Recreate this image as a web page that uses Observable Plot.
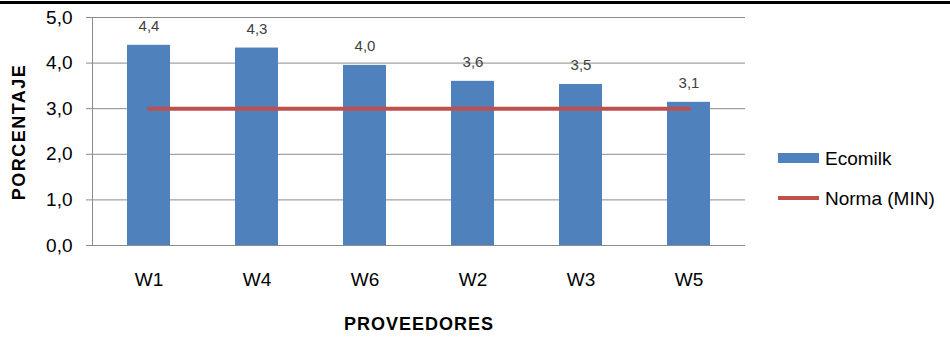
<!DOCTYPE html>
<html>
<head>
<meta charset="utf-8">
<script src="https://cdn.jsdelivr.net/npm/d3@7"></script>
<script src="https://cdn.jsdelivr.net/npm/@observablehq/plot@0.6"></script>
<style>
  html, body { margin: 0; padding: 0; background: #fff; }
  #chart svg { display: block; }
</style>
</head>
<body>
<div id="chart"></div>
<script>
const proveedores = ["W1", "W4", "W6", "W2", "W3", "W5"];
const ecomilk = [4.39, 4.33, 3.95, 3.60, 3.53, 3.14];
const norma = [3.0, 3.0, 3.0, 3.0, 3.0, 3.0];
const yTicks = [0, 1, 2, 3, 4, 5];
const seriesNames = ["Ecomilk", "Norma (MIN)"];
const xTitle = "PROVEEDORES";
const yTitle = "PORCENTAJE";

const barData = proveedores.map((p, i) => ({ p, v: ecomilk[i] }));
const lineData = proveedores.map((p, i) => ({ p, v: norma[i] }));
const fmt = d => d.toFixed(1).replace(".", ",");
const FONT = "'Liberation Sans', Arial, sans-serif";

const chart = Plot.plot({
  width: 950,
  height: 338,
  marginLeft: 92,
  marginRight: 205,
  marginTop: 17,
  marginBottom: 93,
  style: { fontFamily: FONT, background: "#fff" },
  x: { domain: proveedores, paddingInner: 0.6, paddingOuter: 0.3, label: null },
  y: { domain: [0, 5], label: null },
  marks: [
    Plot.gridY(yTicks, { stroke: "#8c8c8c", strokeOpacity: 1 }),
    Plot.barY(barData, { x: "p", y: "v", fill: "#4F81BD" }),
    Plot.lineY(lineData, { x: "p", y: "v", stroke: "#C0504D", strokeWidth: 4 }),
    Plot.text(barData, { x: "p", y: "v", text: d => fmt(d.v), dy: -19, fill: "#404040", fontSize: 15 }),
    Plot.ruleY([0], { stroke: "#8c8c8c" }),
    Plot.frame({ anchor: "left", stroke: "#8c8c8c" }),
    Plot.axisY(yTicks, { tickFormat: fmt, tickSize: 6, tickPadding: 14, fontSize: 19, stroke: "#8c8c8c", color: "#000", label: null }),
    Plot.axisX({ tickSize: 0, tickPadding: 27, fontSize: 19, label: null, color: "#000" })
  ]
});

document.getElementById("chart").appendChild(chart);

const svg = d3.select(chart);
// top border
svg.append("rect").attr("x", 0).attr("y", 1).attr("width", 950).attr("height", 3).attr("fill", "#000");
// axis titles
svg.append("text").attr("x", 419).attr("y", 324).attr("text-anchor", "middle").attr("dominant-baseline", "central")
  .attr("font-family", FONT).attr("font-size", 18).attr("font-weight", "bold").attr("letter-spacing", 1).attr("fill", "#000").text(xTitle);
svg.append("text").attr("transform", "translate(19,132) rotate(-90)").attr("text-anchor", "middle").attr("dominant-baseline", "central")
  .attr("font-family", FONT).attr("font-size", 18).attr("font-weight", "bold").attr("letter-spacing", 1.5).attr("fill", "#000").text(yTitle);
// legend
const lg = svg.append("g").attr("text-anchor", "start");
lg.append("rect").attr("x", 778).attr("y", 153).attr("width", 41).attr("height", 10).attr("fill", "#4F81BD");
lg.append("text").attr("x", 825).attr("y", 158).attr("text-anchor", "start").attr("dominant-baseline", "central")
  .attr("font-family", FONT).attr("font-size", 19).attr("fill", "#000").text(seriesNames[0]);
lg.append("line").attr("x1", 778).attr("x2", 819).attr("y1", 198).attr("y2", 198).attr("stroke", "#C0504D").attr("stroke-width", 4);
lg.append("text").attr("x", 825).attr("y", 198).attr("text-anchor", "start").attr("dominant-baseline", "central")
  .attr("font-family", FONT).attr("font-size", 19).attr("fill", "#000").text(seriesNames[1]);
</script>
</body>
</html>
